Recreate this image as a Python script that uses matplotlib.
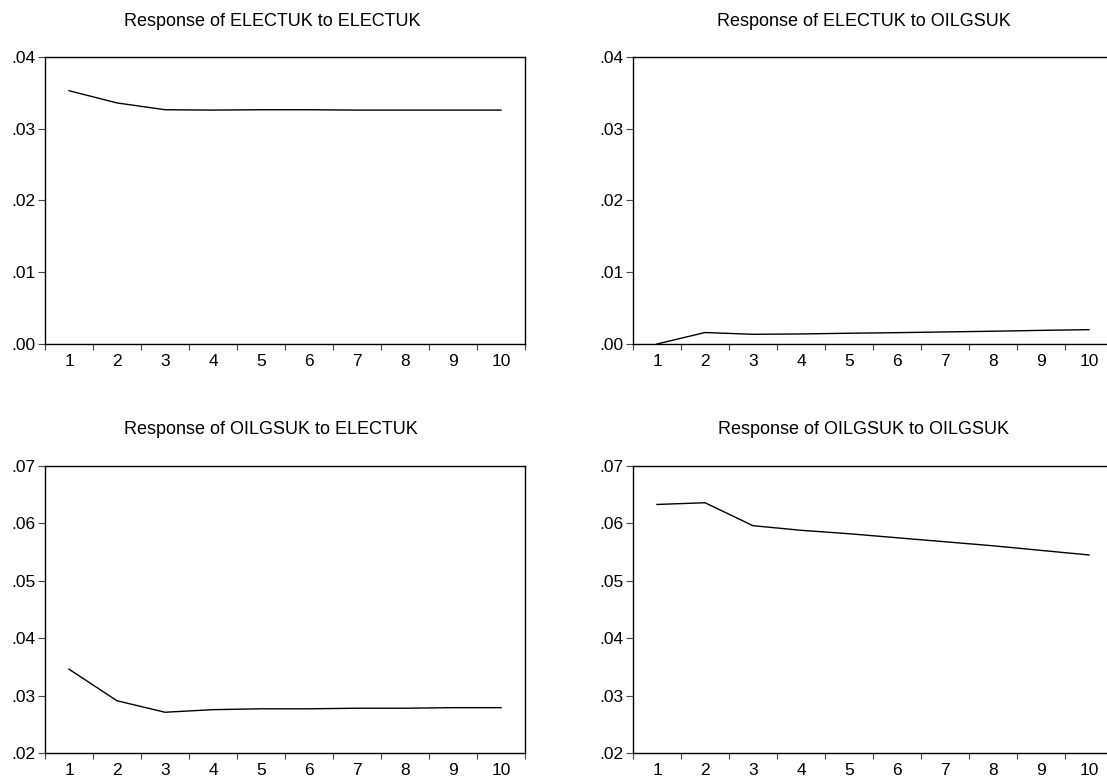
import matplotlib
matplotlib.use("Agg")
import matplotlib.pyplot as plt
from matplotlib.ticker import FuncFormatter, FixedLocator
import numpy as np

plt.rcParams['font.family'] = ['Liberation Sans', 'DejaVu Sans']

periods = list(range(1, 11))

elec_to_elec = [0.0353, 0.0336, 0.03265, 0.0326, 0.03265, 0.03265, 0.0326, 0.0326, 0.0326, 0.0326]
elec_to_oil = [0.0, 0.0016, 0.00135, 0.0014, 0.0015, 0.00158, 0.00168, 0.00178, 0.0019, 0.0020]
oil_to_elec = [0.0346, 0.0291, 0.0271, 0.02755, 0.0277, 0.0277, 0.0278, 0.0278, 0.0279, 0.0279]
oil_to_oil = [0.0633, 0.0636, 0.0596, 0.0588, 0.0582, 0.0575, 0.0568, 0.0561, 0.0553, 0.0545]

titles = ["Response of ELECTUK to ELECTUK", "Response of ELECTUK to OILGSUK",
          "Response of OILGSUK to ELECTUK", "Response of OILGSUK to OILGSUK"]
series = [elec_to_elec, elec_to_oil, oil_to_elec, oil_to_oil]
ylims = [(0.0, 0.04), (0.0, 0.04), (0.02, 0.07), (0.02, 0.07)]
yticks_top = [0.00, 0.01, 0.02, 0.03, 0.04]
yticks_bot = [0.02, 0.03, 0.04, 0.05, 0.06, 0.07]
yticks = [yticks_top, yticks_top, yticks_bot, yticks_bot]

W, H = 1107, 778
fig = plt.figure(figsize=(W / 100, H / 100), dpi=100)

# pixel boxes: (left, top, width, height)
boxes = [(45, 57, 480, 287), (633, 57, 480, 287), (45, 466, 480, 287), (633, 466, 480, 287)]
title_x = [272, 864, 271, 864]

def fmt(v, pos):
    s = f"{v:.2f}"
    return s[1:] if s.startswith("0") else s

for i in range(4):
    l, t, w, h = boxes[i]
    ax = fig.add_axes([l / W, 1 - (t + h) / H, w / W, h / H])
    ax.plot(periods, series[i], color='black', lw=1.0)
    ax.set_xlim(0.5, 10.5)
    ax.set_ylim(*ylims[i])
    ax.set_yticks(yticks[i])
    ax.yaxis.set_major_formatter(FuncFormatter(fmt))
    ax.set_xticks(periods)
    ax.set_xticklabels([str(p) for p in periods])
    ax.xaxis.set_minor_locator(FixedLocator(np.arange(0.5, 11, 1.0)))
    ax.tick_params(axis='x', which='major', length=0, pad=7, labelsize=12.5)
    ax.tick_params(axis='x', which='minor', length=4.5, width=0.8, direction='out', color='#444444')
    ax.tick_params(axis='y', which='major', length=5, width=0.8, direction='out', pad=2,
                   labelsize=12.5, color='#444444')
    for sp in ax.spines.values():
        sp.set_linewidth(1.0)
        sp.set_color('black')
    fig.text(title_x[i] / W, 1 - (t - 36) / H, titles[i], ha='center', va='center', fontsize=13)

fig.savefig("out.png", dpi=100)
